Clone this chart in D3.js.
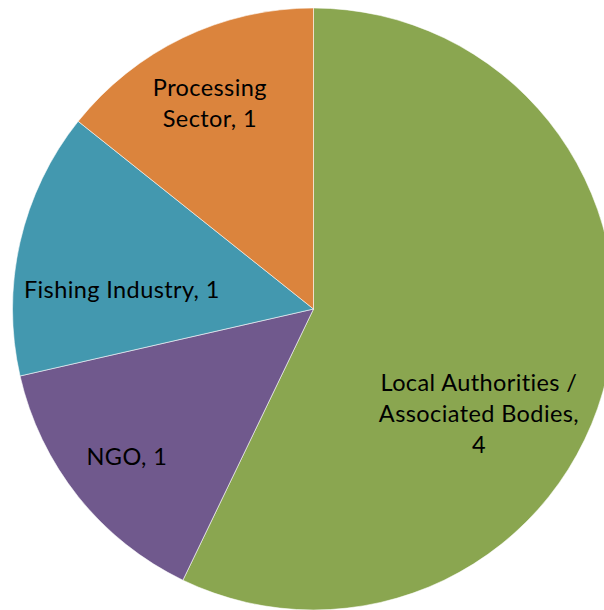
<!DOCTYPE html>
<html>
<head>
<meta charset="utf-8">
<script src="https://cdn.jsdelivr.net/npm/d3@7"></script>
<style>
  html, body { margin: 0; padding: 0; background: #fff; }
  svg { display: block; }
  .slice-label { font-family: Lato, "Open Sans", sans-serif; font-size: 23.5px; letter-spacing: 0.4px; fill: #000; }
</style>
</head>
<body>
<svg id="chart" width="604" height="610"></svg>
<script>
// Stakeholder groups and their counts
const categories = ["Local Authorities / Associated Bodies", "NGO", "Fishing Industry", "Processing Sector"];
const values = [4, 1, 1, 1];
const colors = ["#8AA650", "#70598D", "#4398AF", "#DB843D"];

const width = 604, height = 610;
const cx = 313.5, cy = 309, radius = 301;

// Label placement per slice: radius as a fraction of the pie, angle nudge in degrees, wrap width
const labelLayout = [
  { r: 0.65, shift: 19.4, wrap: 205 },
  { r: 0.79, shift: 0.3, wrap: 200 },
  { r: 0.64, shift: -7.1, wrap: 240 },
  { r: 0.766, shift: -1.0, wrap: 140 }
];
const lineHeight = 31;
const capHeight = 16.5;

const data = categories.map((c, i) => ({ category: c, value: values[i], color: colors[i], index: i }));

const svg = d3.select("#chart");
const g = svg.append("g").attr("transform", `translate(${cx},${cy})`);

const pie = d3.pie().value(d => d.value).sort(null);
const arc = d3.arc().innerRadius(0).outerRadius(radius);
const arcs = pie(data);

g.selectAll("path.slice")
  .data(arcs)
  .join("path")
  .attr("class", "slice")
  .attr("d", arc)
  .attr("fill", d => d.data.color)
  .attr("stroke", "#ffffff")
  .attr("stroke-width", 0.7)
  .attr("stroke-opacity", 0.8);

// Measure text so labels can be wrapped word by word
const measurer = svg.append("text").attr("class", "slice-label").attr("visibility", "hidden");
function textWidth(s) {
  measurer.text(s);
  return measurer.node().getComputedTextLength();
}
function wrap(text, maxWidth) {
  const words = text.split(" ");
  const lines = [];
  let line = "";
  words.forEach(w => {
    const trial = line ? line + " " + w : w;
    if (line && textWidth(trial) > maxWidth) {
      lines.push(line);
      line = w;
    } else {
      line = trial;
    }
  });
  if (line) lines.push(line);
  return lines;
}

g.selectAll("text.slice-label")
  .data(arcs)
  .join("text")
  .attr("class", "slice-label")
  .attr("text-anchor", "middle")
  .each(function(d) {
    const lay = labelLayout[d.data.index];
    const mid = (d.startAngle + d.endAngle) / 2 + lay.shift * Math.PI / 180;
    const [x, y] = d3.pointRadial(mid, radius * lay.r);
    const lines = wrap(`${d.data.category}, ${d.data.value}`, lay.wrap);
    const firstBaseline = y - (lines.length - 1) * lineHeight / 2 + capHeight / 2;
    d3.select(this).selectAll("tspan")
      .data(lines)
      .join("tspan")
      .attr("x", x)
      .attr("y", (l, i) => firstBaseline + i * lineHeight)
      .text(l => l);
  });

measurer.remove();
</script>
</body>
</html>
